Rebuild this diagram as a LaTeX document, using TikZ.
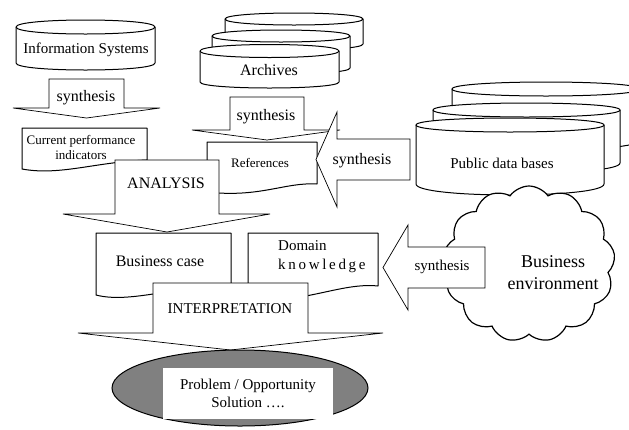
\documentclass[tikz,border=0pt]{standalone}
\usepackage{fontspec}
\setmainfont{Liberation Serif}
\usetikzlibrary{shapes.symbols,shapes.geometric}
\definecolor{ellgray}{RGB}{128,128,128}
\tikzset{
  shapeline/.style={draw=black, fill=white, line width=1pt, line join=round},
  arrowline/.style={draw=black, fill=white, line width=0.7pt, line join=miter},
  lbl/.style={inner sep=0pt, align=center, text=black},
  f13/.style={font=\fontsize{13}{15}\selectfont},
  f15/.style={font=\fontsize{15}{18}\selectfont},
  f16/.style={font=\fontsize{16}{19}\selectfont},
  f18/.style={font=\fontsize{18}{22}\selectfont},
}
% cylinder: L R topcentre rtop sideend rbot
\newcommand\cylbody[6]{%
  \path[shapeline] (#1,#3) -- (#1,#5) .. controls (#1,{#5+4/3*#6}) and (#2,{#5+4/3*#6}) .. (#2,#5)
     -- (#2,#3) .. controls (#2,{#3-4/3*#4}) and (#1,{#3-4/3*#4}) .. (#1,#3) -- cycle;
  \draw[line width=1pt] (#1,#3) .. controls (#1,{#3+4/3*#4}) and (#2,{#3+4/3*#4}) .. (#2,#3);}
% down block arrow: shaftL shaftR top base wingL wingR tipy
\newcommand\downblock[7]{%
  \path[arrowline] (#1,#3) -- (#2,#3) -- (#2,#4) -- (#6,#4) -- ({(#1+#2)/2},#7) -- (#5,#4) -- (#1,#4) -- cycle;}
% left block arrow: tipx headx headtop headbot shafttop shaftbot right
\newcommand\leftblock[7]{%
  \path[arrowline] (#1,{(#3+#4)/2}) -- (#2,#3) -- (#2,#5) -- (#7,#5) -- (#7,#6) -- (#2,#6) -- (#2,#4) -- cycle;}
\begin{document}
\begin{tikzpicture}[x=1pt,y=-1pt]
\useasboundingbox (0,0) rectangle (629,429);
\clip (0,0) rectangle (629,429);

% Information Systems
\cylbody{16}{155}{27}{7}{63}{7}
\node[lbl,f15] (infosys) at (86,50) {Information Systems};
\downblock{49}{124}{79}{108}{13}{160}{118}
\node[lbl,f16] (syn1) at (86,98) {synthesis};
\path[shapeline] (22,128) -- (147,128) -- (147,160) .. controls (95,162) and (60,176) .. (22,169) -- cycle;
\node[lbl,f13] (cpi) at (81,147) {Current performance\\indicators};

% Archives
\cylbody{225}{363}{19}{6}{44}{6}
\cylbody{212}{350}{36}{6}{68}{6}
\cylbody{200}{339}{51}{6.5}{82}{6}
\node[lbl,f16] (arch) at (269,70) {Archives};
\path[shapeline] (207,142) -- (317,142) -- (317,184) .. controls (285,182) and (260,198) .. (207,192) -- cycle;
\node[lbl,f13] (refs) at (260,163) {References};
\downblock{230}{304}{97}{130}{192}{340}{140}
\node[lbl,f16] (syn2) at (266,117) {synthesis};
\leftblock{316}{337}{112}{207}{139}{180}{410}
\node[lbl,f16] (syn3) at (362,161) {synthesis};

% Analysis
\downblock{115}{219}{160}{214}{63}{270}{232}
\node[lbl,f16] (analysis) at (166,183) {ANALYSIS};

% Public data bases
\cylbody{452}{640}{89}{7}{140}{10}
\cylbody{433}{620}{110}{7}{163}{10}
\cylbody{416}{604}{125}{7}{184}{11}
\node[lbl,f15] (pdb) at (502,163) {Public data bases};

% Business environment
\node[cloud, draw, fill=white, line width=1.2pt, cloud puffs=13, cloud puff arc=110,
      minimum width=172pt, minimum height=156pt, inner sep=0pt] (cloud) at (529,264) {};
\node[lbl,f18] (busenv) at (553,273) {Business\\environment};
\leftblock{383}{408}{225}{310}{247}{288}{485}
\node[lbl,f15] (syn4) at (442,267) {synthesis};

% Business case and domain knowledge
\path[shapeline] (96,233) -- (231,233) -- (231,285) .. controls (180,285) and (130,304) .. (96,295) -- cycle;
\node[lbl,f16] (bcase) at (160,261) {Business case};
\path[shapeline] (248,233) -- (378,233) -- (378,286) .. controls (340,282) and (300,306) .. (248,298) -- cycle;
\node[lbl,align=left,anchor=west,font=\fontsize{15}{19}\selectfont] (domain) at (278,257) {Domain\\{\addfontfeature{LetterSpace=18}knowledge}};

% Interpretation
\downblock{153}{308}{283}{333}{78}{383}{350}
\node[lbl,f15] (interp) at (230,309) {INTERPRETATION};

% Result
\node[ellipse, draw, fill=ellgray, line width=1pt, minimum width=256pt, minimum height=76pt, inner sep=0pt] (result) at (240,388) {};
\node[lbl,f15,fill=white,minimum width=170pt,minimum height=51pt] (solution) at (248,393.5) {Problem / Opportunity\\Solution ….};
\end{tikzpicture}
\end{document}
